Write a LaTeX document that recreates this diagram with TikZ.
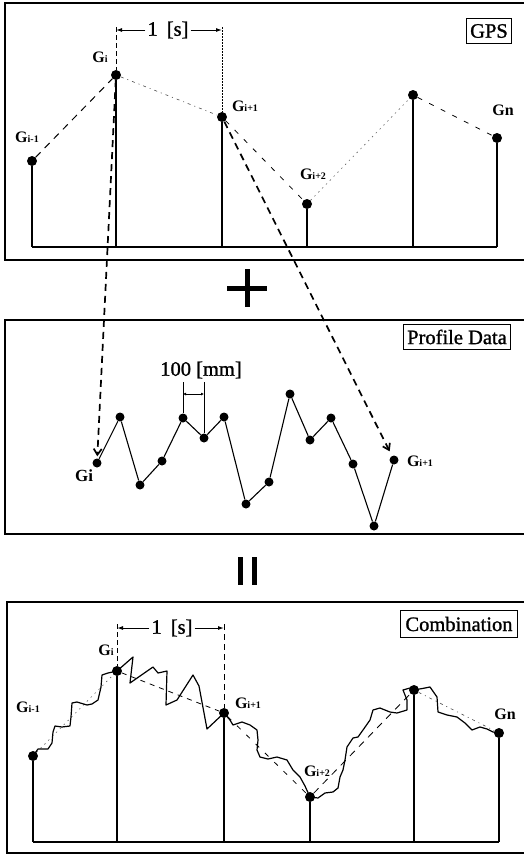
\documentclass[tikz,border=0pt]{standalone}
\usepackage{fontspec}
\setmainfont{Liberation Serif}
\newfontfamily\scanfont[FakeBold=1.2]{Liberation Serif}
\usetikzlibrary{arrows.meta}
\newcommand\Gsb[1]{G{\fontsize{10}{10}\selectfont #1}}
\begin{document}
\begin{tikzpicture}[x=1pt,y=-1pt,
  frame/.style={line width=1.4pt},
  stem/.style={line width=1.2pt},
  dot/.style={circle,fill=black,inner sep=0pt,minimum size=10pt},
  mdot/.style={circle,fill=black,inner sep=0pt,minimum size=9pt},
  glab/.style={font=\fontsize{16}{16}\selectfont\bfseries,inner sep=0pt},
  boxlab/.style={draw,line width=1pt,font=\scanfont\fontsize{20.5}{22}\selectfont,inner xsep=4pt,inner ysep=6pt},
  dimlab/.style={font=\scanfont\fontsize{20.5}{22}\selectfont,inner sep=2pt},
  bigarrow/.style={line width=1.7pt,dash pattern=on 7pt off 5pt,-{Straight Barb[length=6pt,width=8pt]}},
  dimarrow/.style={line width=1pt,-{Latex[length=6pt,width=4pt]}},
  smallarrow/.style={line width=0.8pt,{Latex[length=3pt,width=3pt]}-{Latex[length=3pt,width=3pt]}},
  dthick/.style={line width=1pt,dash pattern=on 7pt off 6pt},
  ddot/.style={line width=0.6pt,dash pattern=on 3pt off 4pt on 1pt off 4pt,black!70},
  dthin/.style={line width=0.8pt,dash pattern=on 5pt off 8pt},
  dlight/.style={line width=0.6pt,dash pattern=on 1.5pt off 4pt,black!60},
  dguide/.style={line width=0.7pt,dash pattern=on 5pt off 3pt},
  dguidedot/.style={line width=0.7pt,dash pattern=on 1.5pt off 1.5pt},
  prof/.style={line width=1.1pt},
  curve/.style={line width=1.2pt,line join=round},
  cdash/.style={line width=0.8pt,dash pattern=on 5pt off 5pt}
]
\useasboundingbox (0,0) rectangle (523,855);

% ---------------- frames
\draw[frame] (526,3) -- (5,3) -- (5,260) -- (526,260);
\draw[frame] (526,320) -- (5,320) -- (5,534) -- (526,534);
\draw[frame] (526,602) -- (7,602) -- (7,853) -- (526,853);

% ---------------- top panel (GPS)
\node[dot] (a1) at (32,161) {};
\node[dot] (a2) at (116,75) {};
\node[dot] (a3) at (222,117) {};
\node[dot] (a4) at (307,204) {};
\node[dot] (a5) at (413,95) {};
\node[dot] (a6) at (497,138) {};
\foreach \n/\x in {a1/32,a2/116,a3/222,a4/307,a5/413,a6/497}
  \coordinate (\n b) at (\x,247);
\foreach \n in {a1,a2,a3,a4,a5,a6}
  \draw[stem] (\n) -- (\n b);
\draw[stem] (a1b) -- (a6b);

\draw[dthick] (a1) -- (a2);
\draw[ddot] (a2) -- (a3);
\draw[dthin] (a3) -- (a4);
\draw[dlight] (a4) -- (a5);
\draw[dthin] (a5) -- (a6);

\node[glab] (la1) at (27,137) {\Gsb{i-1}};
\node[glab] (la2) at (100,57) {\Gsb{i}};
\node[glab] (la3) at (245,106) {\Gsb{i+1}};
\node[glab] (la4) at (313,174) {\Gsb{i+2}};
\node[glab] (la6) at (503,110) {Gn};

\node[dimlab] (s1) at (168,30) {1\hspace{9pt}[s]};
\coordinate (t1) at (116,30);
\coordinate (t2) at (222,30);
\draw[dimarrow] (s1.west) -- (t1);
\draw[dimarrow] (s1.east) -- (t2);
\coordinate (g1) at (116,27);
\coordinate (g2) at (222,27);
\draw[dguide] (g1) -- (a2);
\draw[dguidedot] (g2) -- (a3);

\node[boxlab] (gps) at (489,31) {GPS};

% ---------------- plus
\fill (227,286) rectangle (267,291);
\fill (244.5,269) rectangle (249.5,307);

% ---------------- middle panel (profile)
\node[mdot] (b0) at (97,463) {};
\node[mdot] (b1) at (120,417) {};
\node[mdot] (b2) at (140,485) {};
\node[mdot] (b3) at (162,461) {};
\node[mdot] (b4) at (183,418) {};
\node[mdot] (b5) at (204,438) {};
\node[mdot] (b6) at (224,417) {};
\node[mdot] (b7) at (246,504) {};
\node[mdot] (b8) at (269,482) {};
\node[mdot] (b9) at (290,394) {};
\node[mdot] (b10) at (310,440) {};
\node[mdot] (b11) at (331,418) {};
\node[mdot] (b12) at (353,464) {};
\node[mdot] (b13) at (374,526) {};
\node[mdot] (b14) at (394,460) {};
\draw[prof] (b0) -- (b1) -- (b2) -- (b3) -- (b4) -- (b5) -- (b6) -- (b7)
  -- (b8) -- (b9) -- (b10) -- (b11) -- (b12) -- (b13) -- (b14);

\node[glab,font=\fontsize{17}{17}\selectfont\bfseries] (lb0) at (84,476) {Gi};
\node[glab] (lb14) at (420,461) {\Gsb{i+1}};

\node[dimlab] (mm) at (201,370) {100 [mm]};
\coordinate (m1) at (183,382);
\coordinate (m2) at (204,382);
\draw[line width=0.8pt] (m1) -- (b4);
\draw[line width=0.8pt] (m2) -- (b5);
\coordinate (m3) at (183,394);
\coordinate (m4) at (204,394);
\draw[smallarrow] (m3) -- (m4);

\node[boxlab,inner ysep=5pt] (pd) at (457,337) {Profile Data};

% big dashed arrows
\draw[bigarrow,shorten >=2pt] (a2) -- (b0);
\draw[bigarrow,shorten >=5pt] (a3) -- (b14);

% ---------------- equals
\fill (238,557) rectangle (243,585);
\fill (252,557) rectangle (257,585);

% ---------------- bottom panel (combination)
\node[dot] (c1) at (33,756) {};
\node[dot] (c2) at (117,671) {};
\node[dot] (c3) at (224,713) {};
\node[dot] (c4) at (310,797) {};
\node[dot] (c5) at (414,690) {};
\node[dot] (c6) at (499,733) {};
\foreach \n/\x in {c1/33,c2/117,c3/224,c4/310,c5/414,c6/499}
  \coordinate (\n b) at (\x,842);
\foreach \n in {c1,c2,c3,c4,c5,c6}
  \draw[stem] (\n) -- (\n b);
\draw[stem] (c1b) -- (c6b);

\draw[dlight] (c1) -- (c2);
\draw[cdash] (c2) -- (c3);
\draw[dthin] (c3) -- (c4);
\draw[cdash,dash pattern=on 7pt off 6pt] (c4) -- (c5);
\draw[ddot] (c5) -- (c6);

\draw[curve] (c1.center) -- (38,749) -- (48,749) -- (52,743) -- (53,732) -- (55,726)
  -- (62,727) -- (70,726) -- (71,717) -- (72,703) -- (77,702) -- (87,705)
  -- (92,704) -- (98,700) -- (101,687) -- (102,675) -- (108,673) -- (c2.center)
  -- (133,657) -- (130,683) -- (153,667) -- (158,673) -- (167,671) -- (166,705)
  -- (177,700) -- (193,675) -- (199,686) -- (207,729) -- (c3.center)
  -- (230,720) -- (233,725) -- (242,722) -- (250,725) -- (257,730) -- (258,740)
  -- (257,750) -- (260,757) -- (268,759) -- (277,757) -- (287,760) -- (293,770)
  -- (300,777) -- (305,786) -- (c4.center)
  -- (318,798) -- (325,793) -- (333,792) -- (338,788) -- (340,777) -- (343,770)
  -- (345,760) -- (347,747) -- (353,738) -- (358,737) -- (363,730) -- (370,720)
  -- (373,710) -- (380,708) -- (390,712) -- (397,713) -- (407,710) -- (407,700)
  -- (403,690) -- (410,688) -- (c5.center)
  -- (425,688) -- (430,687) -- (437,697) -- (438,712) -- (447,715) -- (457,717)
  -- (465,723) -- (472,730) -- (480,727) -- (487,729) -- (493,732) -- (c6.center);

\node[glab] (lc1) at (28,707) {\Gsb{i-1}};
\node[glab] (lc2) at (106,650) {\Gsb{i}};
\node[glab] (lc3) at (248,703) {\Gsb{i+1}};
\node[glab] (lc4) at (317,771) {\Gsb{i+2}};
\node[glab] (lc6) at (505,714) {Gn};

\node[dimlab] (s2) at (172,628) {1\hspace{9pt}[s]};
\coordinate (u1) at (117,628);
\coordinate (u2) at (224,628);
\draw[dimarrow] (s2.west) -- (u1);
\draw[dimarrow] (s2.east) -- (u2);
\coordinate (h1) at (117,624);
\coordinate (h2) at (224,624);
\draw[dguide] (h1) -- (c2);
\draw[dguide,dash pattern=on 6pt off 4pt] (h2) -- (c3);

\node[boxlab,inner xsep=5pt] (comb) at (459,624) {Combination};
\end{tikzpicture}
\end{document}
